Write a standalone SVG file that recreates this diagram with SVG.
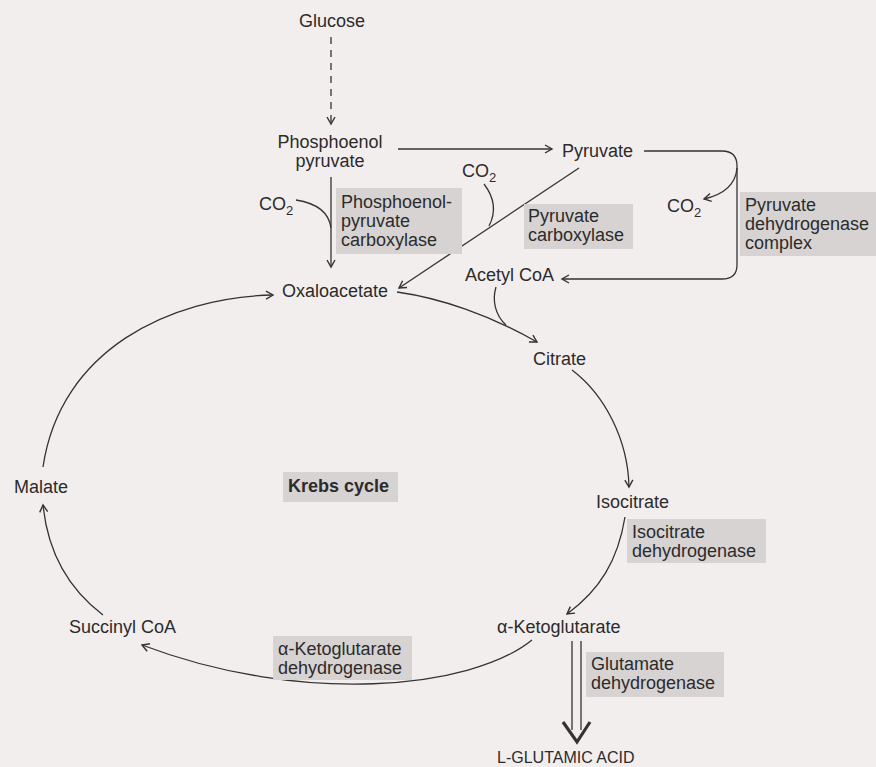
<svg xmlns="http://www.w3.org/2000/svg" width="876" height="767" viewBox="0 0 876 767">
<style>
text{font-family:"Liberation Sans",Arial,sans-serif;font-size:18px;fill:#2b2b2b}
.sub{font-size:13px}
.big{font-size:16px}
.bold{font-weight:bold}
.box{fill:#d7d3d3}
.c{fill:none;stroke:#333;stroke-width:1.3}
</style>
<defs>
<marker id="ah" viewBox="-9 -6 11 12" refX="0" refY="0" markerWidth="11" markerHeight="12" markerUnits="userSpaceOnUse" orient="auto">
<path d="M-7,-4 L0,0 L-7,4" fill="none" stroke="#333" stroke-width="1.4"/>
</marker>
</defs>
<rect x="0" y="0" width="876" height="767" fill="#f3eeee"/>
<g id="connectors">
<path class="c" d="M331,37 L331,124" stroke-dasharray="7,6" marker-end="url(#ah)"/>
<path class="c" d="M398,149 L552,149" marker-end="url(#ah)"/>
<path class="c" d="M331,177 L331,267" marker-end="url(#ah)"/>
<path class="c" d="M296,200 Q328,205 331,228"/>
<path class="c" d="M579,168 L399,288" marker-end="url(#ah)"/>
<path class="c" d="M484,184 Q500,205 489,226"/>
<path class="c" d="M644,151 L722,151 Q737,151 737,166 L737,265 Q737,279 722,279 L562,279" marker-end="url(#ah)"/>
<path class="c" d="M737,168 Q735,192 704,199" marker-end="url(#ah)"/>
<path class="c" d="M397,292 C440,298 490,315 537,342" marker-end="url(#ah)"/>
<path class="c" d="M496,287 C492,300 495,315 506,325"/>
<path class="c" d="M572,370 C605,395 628,440 629,487" marker-end="url(#ah)"/>
<path class="c" d="M625,517 C618,560 600,590 567,614" marker-end="url(#ah)"/>
<path class="c" d="M532,640 C470,690 300,705 142,645" marker-end="url(#ah)"/>
<path class="c" d="M103,615 C70,590 48,555 43,505" marker-end="url(#ah)"/>
<path class="c" d="M43,467 C60,350 170,297 273,295" marker-end="url(#ah)"/>
<path class="c" d="M572,641 L572,730 M581,641 L581,730"/>
<path d="M563,722 L577,742 L590,722" fill="none" stroke="#333" stroke-width="3.2" stroke-linejoin="miter"/>
</g>
<g id="glucose"><text x="332" y="27" text-anchor="middle">Glucose</text></g>
<g id="pep"><text x="330" y="148" text-anchor="middle">Phosphoenol</text><text x="330" y="167" text-anchor="middle">pyruvate</text></g>
<g id="pyruvate"><text x="562" y="157">Pyruvate</text></g>
<g id="co2-left"><text x="259" y="210">CO<tspan class="sub" dy="5">2</tspan></text></g>
<g id="pep-carboxylase"><rect class="box" x="336" y="188" width="126" height="66"/><text x="341" y="208">Phosphoenol-</text><text x="341" y="227">pyruvate</text><text x="341" y="246">carboxylase</text></g>
<g id="co2-mid"><text x="462" y="177">CO<tspan class="sub" dy="5">2</tspan></text></g>
<g id="pyruvate-carboxylase"><rect class="box" x="524" y="204" width="109" height="45"/><text x="528" y="222">Pyruvate</text><text x="528" y="241">carboxylase</text></g>
<g id="co2-right"><text x="667" y="212">CO<tspan class="sub" dy="5">2</tspan></text></g>
<g id="pdh-complex"><rect class="box" x="740" y="192" width="136" height="64"/><text x="745" y="211">Pyruvate</text><text x="745" y="230">dehydrogenase</text><text x="745" y="249">complex</text></g>
<g id="acetyl-coa"><text x="465" y="281">Acetyl CoA</text></g>
<g id="oxaloacetate"><text x="282" y="297">Oxaloacetate</text></g>
<g id="citrate"><text x="533" y="365">Citrate</text></g>
<g id="isocitrate"><text x="596" y="508">Isocitrate</text></g>
<g id="isocitrate-dh"><rect class="box" x="627" y="519" width="139" height="44"/><text x="632" y="538">Isocitrate</text><text x="632" y="557">dehydrogenase</text></g>
<g id="akg"><text x="497" y="633">α-Ketoglutarate</text></g>
<g id="glutamate-dh"><rect class="box" x="586" y="652" width="138" height="45"/><text x="591" y="670">Glutamate</text><text x="591" y="689">dehydrogenase</text></g>
<g id="l-glutamic-acid"><text class="big" x="497" y="763">L-GLUTAMIC ACID</text></g>
<g id="akg-dh"><rect class="box" x="273" y="636" width="139" height="44"/><text x="278" y="655">α-Ketoglutarate</text><text x="278" y="674">dehydrogenase</text></g>
<g id="succinyl-coa"><text x="69" y="633">Succinyl CoA</text></g>
<g id="malate"><text x="14" y="493">Malate</text></g>
<g id="krebs-cycle"><rect class="box" x="283" y="472" width="115" height="30"/><text class="bold" x="288" y="492">Krebs cycle</text></g>
</svg>
